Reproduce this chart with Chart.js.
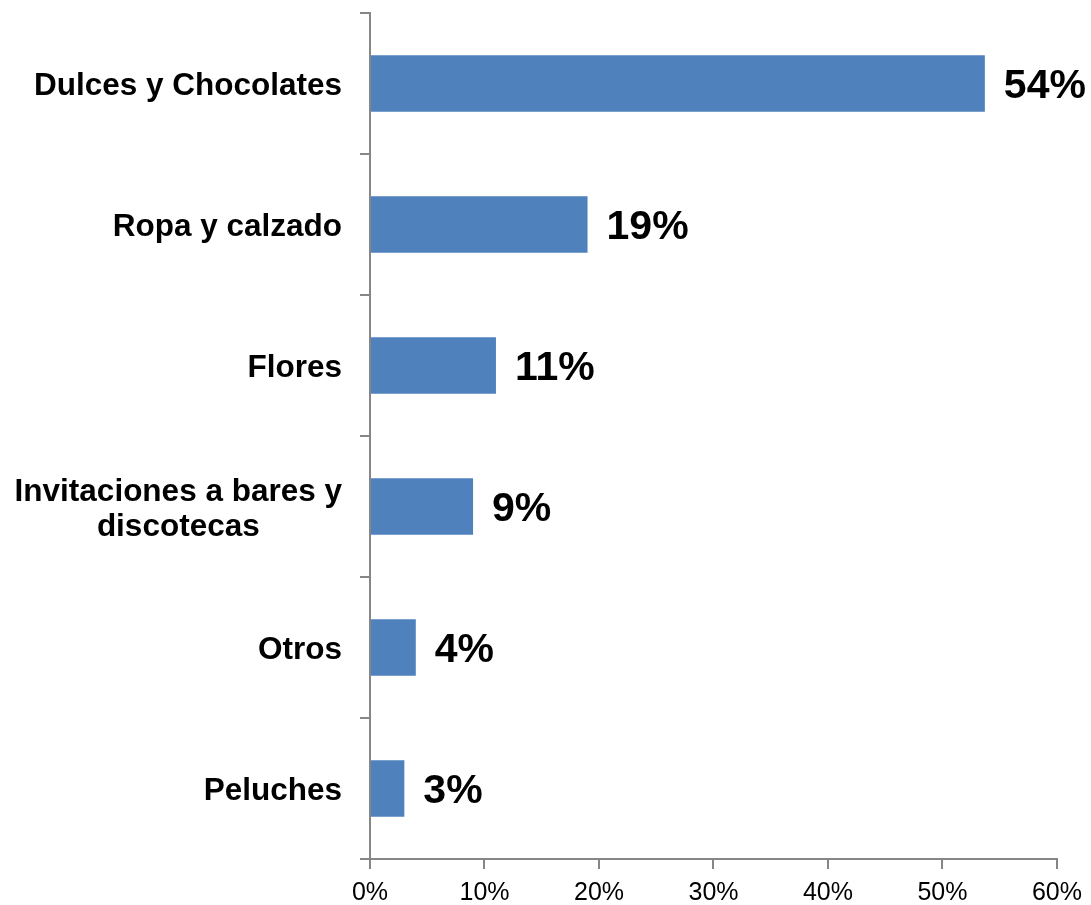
<!DOCTYPE html>
<html>
<head>
<meta charset="utf-8">
<script src="https://cdn.jsdelivr.net/npm/chart.js@4"></script>
<style>
  html, body { margin: 0; padding: 0; background: #fff; }
  #wrap { width: 1091px; height: 905px; }
</style>
</head>
<body>
<div id="wrap"><canvas id="regalos"></canvas></div>
<script>
const categories = [
    ["Dulces y Chocolates"],
    ["Ropa y calzado"],
    ["Flores"],
    ["Invitaciones a bares y", "discotecas"],
    ["Otros"],
    ["Peluches"]
];
const shares = [53.7, 19, 11, 9, 4, 3];
const shareLabels = ["54%", "19%", "11%", "9%", "4%", "3%"];
const xTicks = [0, 10, 20, 30, 40, 50, 60];

const axisGray = "#868686";
const fontFam = "'Liberation Sans', Arial, sans-serif";

// category names + value labels drawn by hand so the 2-line label stays centred
const labelPlugin = {
    id: "labelPlugin",
    afterDatasetsDraw(chart) {
        const ctx = chart.ctx;
        const yScale = chart.scales.y;
        const meta = chart.getDatasetMeta(0);
        ctx.save();
        ctx.fillStyle = "#000";
        ctx.textBaseline = "middle";

        // category names
        ctx.font = "bold 31.5px " + fontFam;
        const lineH = 35;
        categories.forEach((lines, i) => {
            const cy = yScale.getPixelForValue(i);
            const widths = lines.map(l => ctx.measureText(l).width);
            const maxW = Math.max(...widths);
            const right = 342;
            const startY = cy + 3 - (lines.length - 1) * lineH / 2;
            lines.forEach((l, j) => {
                const x = right - maxW / 2 - widths[j] / 2;
                ctx.textAlign = "left";
                ctx.fillText(l, x, startY + j * lineH);
            });
        });

        // value labels
        ctx.font = "bold 41px " + fontFam;
        ctx.textAlign = "left";
        meta.data.forEach((bar, i) => {
            ctx.fillText(shareLabels[i], bar.x + 19, bar.y + 3);
        });
        ctx.restore();
    }
};

new Chart(document.getElementById("regalos"), {
    type: "bar",
    data: {
        labels: categories.map(c => c.join(" ")),
        datasets: [{
            data: shares,
            backgroundColor: "#4F81BD",
            borderWidth: 0,
            categoryPercentage: 1,
            barPercentage: 0.4
        }]
    },
    options: {
        indexAxis: "y",
        responsive: true,
        maintainAspectRatio: false,
        animation: false,
        layout: { padding: { top: 13, right: 33, bottom: 0, left: 0 } },
        plugins: {
            legend: { display: false },
            tooltip: { enabled: false }
        },
        scales: {
            x: {
                min: 0,
                max: 60,
                afterBuildTicks(scale) {
                    scale.ticks = xTicks.map(v => ({ value: v }));
                },
                afterFit(scale) { scale.height = 46; },
                ticks: {
                    color: "#000",
                    font: { family: fontFam, size: 25 },
                    padding: 9,
                    maxRotation: 0,
                    callback: v => v + "%"
                },
                grid: {
                    drawOnChartArea: false,
                    drawTicks: true,
                    tickLength: 10,
                    color: axisGray,
                    lineWidth: 2
                },
                border: { color: axisGray, width: 2 }
            },
            y: {
                afterFit(scale) { scale.width = 370; },
                ticks: { display: false },
                grid: {
                    drawOnChartArea: false,
                    drawTicks: true,
                    tickLength: 10,
                    color: axisGray,
                    lineWidth: 2,
                    offset: true
                },
                border: { color: axisGray, width: 2 }
            }
        }
    },
    plugins: [labelPlugin]
});
</script>
</body>
</html>
